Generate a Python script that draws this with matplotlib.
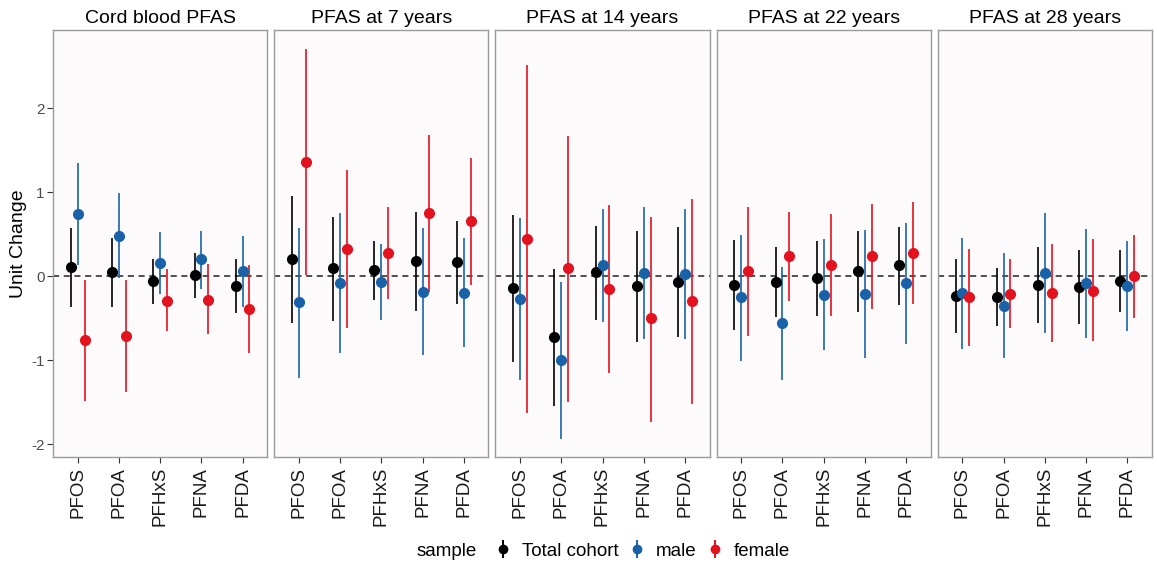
import matplotlib
matplotlib.use("Agg")
import matplotlib.pyplot as plt
from matplotlib.lines import Line2D
from matplotlib.legend_handler import HandlerTuple
import numpy as np

plt.rcParams['font.family'] = ['Liberation Sans', 'DejaVu Sans']
plt.rcParams['axes.unicode_minus'] = False

panels = ['Cord blood PFAS', 'PFAS at 7 years', 'PFAS at 14 years',
          'PFAS at 22 years', 'PFAS at 28 years']
compounds = ['PFOS', 'PFOA', 'PFHxS', 'PFNA', 'PFDA']
samples = ['Total cohort', 'male', 'female']
colors = ['#000000', '#1a62a8', '#e2121f']

# estimate, lower, upper -- one row per panel, one value per compound
total_est = [[0.11, 0.05, -0.06, 0.01, -0.12],
             [0.21, 0.10, 0.07, 0.18, 0.17],
             [-0.14, -0.72, 0.05, -0.12, -0.07],
             [-0.10, -0.07, -0.02, 0.06, 0.13],
             [-0.23, -0.25, -0.10, -0.13, -0.06]]
total_lo = [[-0.37, -0.37, -0.33, -0.26, -0.44],
            [-0.55, -0.53, -0.28, -0.41, -0.33],
            [-1.02, -1.54, -0.52, -0.78, -0.72],
            [-0.64, -0.49, -0.47, -0.43, -0.34],
            [-0.67, -0.59, -0.56, -0.57, -0.42]]
total_hi = [[0.58, 0.45, 0.20, 0.28, 0.21],
            [0.95, 0.71, 0.42, 0.77, 0.66],
            [0.73, 0.09, 0.60, 0.54, 0.59],
            [0.43, 0.35, 0.42, 0.54, 0.59],
            [0.20, 0.10, 0.35, 0.31, 0.31]]

male_est = [[0.74, 0.48, 0.16, 0.20, 0.06],
            [-0.31, -0.08, -0.07, -0.19, -0.20],
            [-0.27, -1.00, 0.13, 0.04, 0.03],
            [-0.25, -0.56, -0.22, -0.21, -0.08],
            [-0.20, -0.35, 0.04, -0.08, -0.12]]
male_lo = [[0.13, -0.02, -0.21, -0.15, -0.36],
           [-1.21, -0.91, -0.52, -0.94, -0.84],
           [-1.23, -1.94, -0.54, -0.75, -0.75],
           [-1.01, -1.23, -0.88, -0.97, -0.80],
           [-0.86, -0.97, -0.67, -0.73, -0.65]]
male_hi = [[1.35, 0.99, 0.53, 0.54, 0.48],
           [0.58, 0.75, 0.38, 0.57, 0.45],
           [0.69, -0.07, 0.80, 0.82, 0.80],
           [0.49, 0.11, 0.44, 0.55, 0.63],
           [0.46, 0.28, 0.75, 0.56, 0.42]]

female_est = [[-0.76, -0.71, -0.29, -0.28, -0.39],
              [1.36, 0.33, 0.28, 0.75, 0.66],
              [0.44, 0.10, -0.15, -0.50, -0.30],
              [0.06, 0.24, 0.13, 0.24, 0.28],
              [-0.25, -0.21, -0.20, -0.17, 0.00]]
female_lo = [[-1.48, -1.38, -0.65, -0.69, -0.91],
             [0.02, -0.61, -0.27, -0.19, -0.10],
             [-1.63, -1.49, -1.15, -1.73, -1.52],
             [-0.71, -0.30, -0.47, -0.39, -0.33],
             [-0.83, -0.62, -0.78, -0.77, -0.50]]
female_hi = [[-0.05, -0.04, 0.09, 0.15, 0.14],
             [2.70, 1.26, 0.83, 1.68, 1.41],
             [2.51, 1.67, 0.85, 0.71, 0.92],
             [0.82, 0.77, 0.74, 0.86, 0.88],
             [0.32, 0.20, 0.39, 0.44, 0.49]]

est = [total_est, male_est, female_est]
lo = [total_lo, male_lo, female_lo]
hi = [total_hi, male_hi, female_hi]

fig, axes = plt.subplots(1, 5, figsize=(11.57, 5.68), dpi=100, sharey=True)
fig.subplots_adjust(left=53/1157, right=1152/1157, top=1-30/568, bottom=1-457/568,
                    wspace=0.032)

x = np.arange(1, len(compounds) + 1)
offsets = [-1/6, 0, 1/6]

for p, ax in enumerate(axes):
    ax.set_facecolor('#fcfafb')
    ax.axhline(0, color='#222222', lw=1.1, ls=(0, (4, 3)), zorder=1)
    for s in range(3):
        xs = x + offsets[s]
        ax.vlines(xs, lo[s][p], hi[s][p], color=colors[s], lw=1.4,
                  alpha=0.85, zorder=2)
        ax.plot(xs, est[s][p], 'o', color=colors[s], ms=7, zorder=3)
    ax.set_xlim(0.4, 5.6)
    ax.set_ylim(-2.15, 2.93)
    ax.set_xticks(x)
    ax.set_xticklabels(compounds, rotation=90, fontsize=13.5, color='#1a1a1a')
    ax.set_yticks([-2, -1, 0, 1, 2])
    ax.tick_params(axis='x', length=4, color='#333333', pad=3)
    ax.tick_params(axis='y', length=4, color='#333333', labelsize=11,
                   labelcolor='#4d4d4d', pad=2)
    if p > 0:
        ax.tick_params(axis='y', left=False, labelleft=False)
    for sp in ax.spines.values():
        sp.set_color('#9a9a9a')
        sp.set_linewidth(1.0)
    ax.set_title(panels[p], fontsize=14, pad=5)

axes[0].set_ylabel('Unit Change', fontsize=14, labelpad=3)

handles = []
for c in colors:
    bar = Line2D([], [], color=c, marker='|', ms=13, mew=1.4, ls='none')
    dot = Line2D([], [], color=c, marker='o', ms=6, ls='none')
    handles.append((bar, dot))

legend_y = 1 - 551/568
fig.text(417/1157, legend_y, 'sample', fontsize=13.5, ha='left', va='center')
fig.legend(handles, samples, handler_map={tuple: HandlerTuple(ndivide=1)},
           loc='center left', bbox_to_anchor=(484/1157, legend_y),
           ncol=3, frameon=False, fontsize=13.5, borderpad=0,
           handlelength=1.0, handletextpad=0.5, columnspacing=0.5)

fig.savefig('out.png', dpi=100, facecolor='white')
